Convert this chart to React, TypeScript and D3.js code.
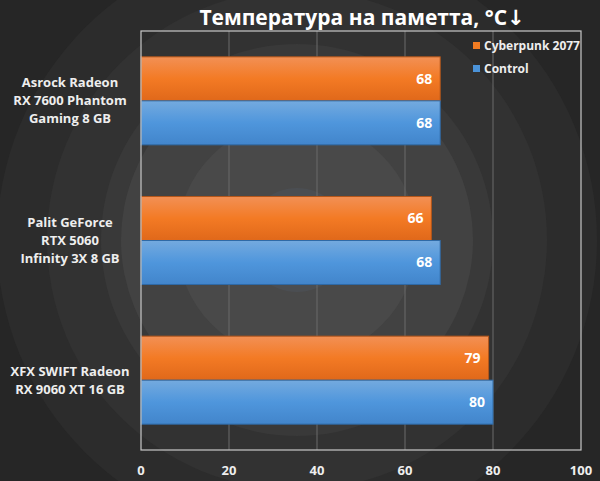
import React from "react";
import * as d3 from "d3";

const categories = [
  ["Asrock Radeon", "RX 7600 Phantom", "Gaming 8 GB"],
  ["Palit GeForce", "RTX 5060", "Infinity 3X 8 GB"],
  ["XFX SWIFT Radeon", "RX 9060 XT 16 GB"],
];
const seriesNames = ["Cyberpunk 2077", "Control"];
const cyberpunk = [68, 66, 79];
const control = [68, 68, 80];
const xTicks = [0, 20, 40, 60, 80, 100];
const title = "Температура на паметта, °C↓";

const W = 600, H = 481;
const plot = { left: 141, right: 581, top: 31, bottom: 450 };
const font = "'Open Sans', 'DejaVu Sans', sans-serif";

export default function App() {
  const x = d3.scaleLinear().domain([0, 100]).range([plot.left, plot.right]);
  const y = d3.scaleBand<number>().domain(d3.range(categories.length)).range([plot.top, plot.bottom]).paddingInner(0.37).paddingOuter(0.185);
  const inner = d3.scaleBand<number>().domain([0, 1]).range([0, y.bandwidth()]);
  const series = [cyberpunk, control];
  const grads = ["gOrange", "gBlue"];
  const strokes = ["#b3561a", "#2f6aa6"];
  const legendColors = ["#f07b22", "#4b93d9"];
  const rings = [
    { r: 420, c: "#262626" },
    { r: 300, c: "#2c2c2c" },
    { r: 250, c: "#323232" },
    { r: 196, c: "#393939" },
    { r: 176, c: "#424242" },
    { r: 120, c: "#494949" },
    { r: 52, c: "#4b4e52" },
  ];
  return (
    <svg width={W} height={H} style={{ display: "block", position: "absolute", left: 0, top: 0 }}>
      <defs>
        <linearGradient id="gOrange" x1="0" y1="0" x2="0" y2="1">
          <stop offset="0" stopColor="#f29055" />
          <stop offset="0.5" stopColor="#f37a24" />
          <stop offset="1" stopColor="#e0681a" />
        </linearGradient>
        <linearGradient id="gBlue" x1="0" y1="0" x2="0" y2="1">
          <stop offset="0" stopColor="#74aadf" />
          <stop offset="0.5" stopColor="#4f96dc" />
          <stop offset="1" stopColor="#4285cb" />
        </linearGradient>
      </defs>
      <rect x={0} y={0} width={W} height={H} fill="#242424" />
      {rings.map((d, i) => (
        <circle key={i} cx={297} cy={240} r={d.r} fill={d.c} />
      ))}
      {xTicks.slice(1, -1).map((t) => (
        <line key={t} x1={x(t)} x2={x(t)} y1={plot.top} y2={plot.bottom} stroke="#6a6a6a" strokeWidth={1} />
      ))}
      {series.map((vals, si) =>
        vals.map((v, ci) => {
          const by = (y(ci) as number) + (inner(si) as number);
          return (
            <g key={`${si}-${ci}`}>
              <rect x={x(0)} y={by} width={x(v) - x(0)} height={inner.bandwidth()} fill={`url(#${grads[si]})`} stroke={strokes[si]} strokeWidth={1} />
              <text x={x(v) - 8} y={by + inner.bandwidth() / 2} dy="0.35em" textAnchor="end" fill="#fff" fontFamily={font} fontWeight="bold" fontSize={14}>
                {v}
              </text>
            </g>
          );
        })
      )}
      <rect x={plot.left} y={plot.top} width={plot.right - plot.left} height={plot.bottom - plot.top} fill="none" stroke="#c8c8c8" strokeWidth={1.2} />
      {xTicks.map((t) => (
        <text key={t} x={x(t)} y={470} dy="0.35em" textAnchor="middle" fill="#eee" fontFamily={font} fontWeight="bold" fontSize={13}>
          {t}
        </text>
      ))}
      {categories.map((lines, ci) => {
        const cy = (y(ci) as number) + y.bandwidth() / 2;
        const lh = 18;
        return (
          <text key={ci} textAnchor="middle" fill="#eee" fontFamily={font} fontWeight="bold" fontSize={13}>
            {lines.map((l, li) => (
              <tspan key={li} x={70} y={cy + (li - (lines.length - 1) / 2) * lh} dy="0.35em">
                {l}
              </tspan>
            ))}
          </text>
        );
      })}
      {seriesNames.map((n, i) => (
        <g key={n}>
          <rect x={473} y={42 + i * 23} width={7} height={7} fill={legendColors[i]} />
          <text x={484} y={46 + i * 23} dy="0.35em" fill="#eee" fontFamily={font} fontWeight="bold" fontSize={12}>
            {n}
          </text>
        </g>
      ))}
      <text x={362} y={18} dy="0.35em" textAnchor="middle" fill="#fff" fontFamily={font} fontWeight="bold" fontSize={21}>
        {title}
      </text>
    </svg>
  );
}
